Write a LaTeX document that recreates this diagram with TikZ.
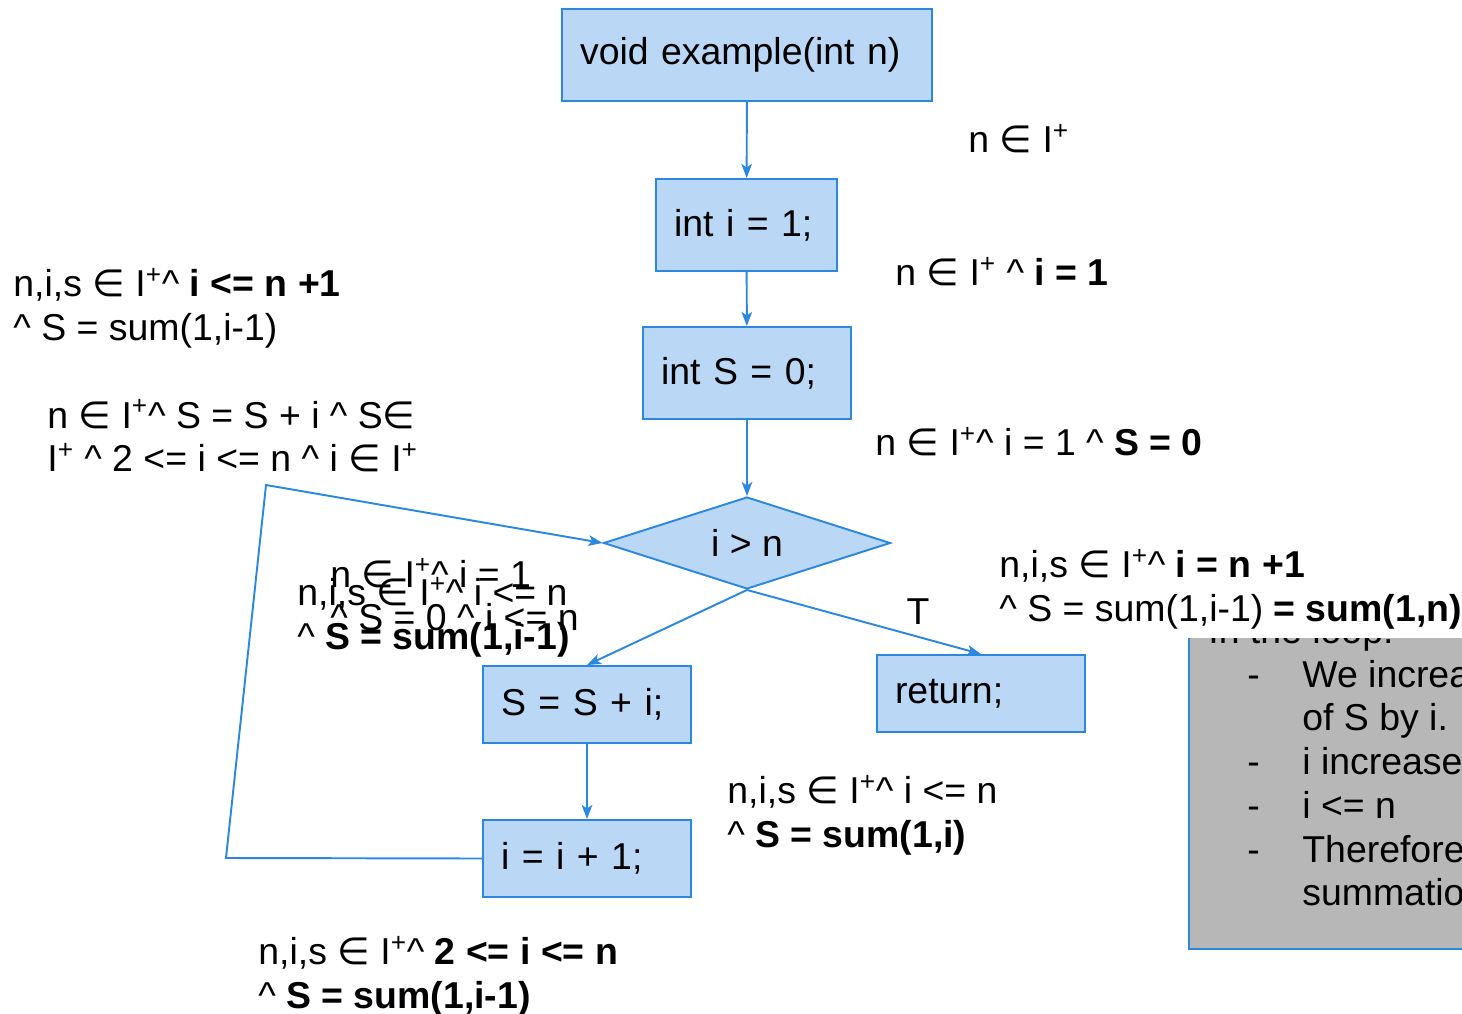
\documentclass[tikz,border=0pt]{standalone}
\usepackage{fontspec}
\setmainfont{Liberation Sans}
\newfontfamily\symfont{DejaVu Sans}
\usepackage{tikz}
\usetikzlibrary{arrows.meta,shapes.geometric}

\definecolor{flowblue}{HTML}{2B88DE}
\definecolor{boxblue}{HTML}{BAD7F6}
\definecolor{notegray}{HTML}{B7B7B7}

\newcommand{\Ip}{I\textsuperscript{+}}
\newcommand{\mem}{{\symfont ∈}}
\newcommand{\wg}{\textasciicircum}
\newcommand{\notebul}[1]{\makebox[1.88cm][l]{\hspace*{0.78cm}-}#1}
\newcommand{\notecont}[1]{\hspace*{1.88cm}#1}

\begin{document}
\begin{tikzpicture}[
  x=0.02cm, y=-0.02cm,
  every node/.style={font=\fontsize{21.3}{24.9}\selectfont},
  % flowchart boxes
  stmt/.style={rectangle,draw=flowblue,fill=boxblue,line width=1.1pt,inner xsep=0.36cm,inner ysep=0pt,align=left},
  decision/.style={diamond,draw=flowblue,fill=boxblue,line width=1.1pt,inner sep=0pt,aspect=3.12,minimum width=5.74cm,minimum height=1.84cm},
  note/.style={rectangle,draw=flowblue,fill=notegray,line width=1.1pt,inner sep=0pt},
  cond/.style={anchor=west,align=left,inner sep=0pt},
  line/.style={draw=flowblue,line width=1.1pt},
  flow/.style={line,-{Stealth[length=8pt,width=6pt,inset=2pt]}}
]
\path[use as bounding box,clip] (0,0) rectangle (1462,1013);

\node[stmt,text width=6.68cm,minimum height=1.84cm] (fn) at (747,55) {void example(int n)};  % top
\node[stmt,text width=2.9cm,minimum height=1.84cm] (initI) at (746.5,225) {int i = 1;};
\node[stmt,text width=3.44cm,minimum height=1.84cm] (initS) at (747,373) {int S = 0;};
\node[decision] (cmp) at (747,543) {i > n};
\node[stmt,text width=3.44cm,minimum height=1.54cm] (addS) at (587,704.5) {S = S + i;};  % loop body
\node[stmt,text width=3.44cm,minimum height=1.54cm] (incI) at (587,858.5) {i = i + 1;};
\node[stmt,text width=3.44cm,minimum height=1.54cm] (ret) at (981,693.5) {return;};  % exit

% edges
\draw[flow] (fn) -- (initI);
\draw[flow] (initI) -- (initS);
\draw[flow] (initS) -- (cmp);
\draw[flow] (cmp.south) -- (addS.north);
\draw[flow] (cmp.south) -- (ret.north);
\draw[flow] (addS) -- (incI);

% back edge of the loop
\coordinate (backA) at (226,858);
\coordinate (backB) at (266,485);
\draw[flow] (incI.west) -- (backA) -- (backB) -- (cmp.west);

\node (tlabel) at (918,612) {T};

% note box, cut by the page edge
\node[note,anchor=north west,minimum width=6cm,minimum height=6.96cm] (notebox) at (1188,600) {};
\node[cond,anchor=north west] (notetxt) at (1208,616) {In the loop:\\
  \notebul{We increase the value}\\
  \notecont{of S by i.}\\
  \notebul{i increases by 1}\\
  \notebul{i <= n}\\
  \notebul{Therefore S is the}\\
  \notecont{summation of 1 to i}};

% assertions
\node[cond] (pre0) at (968,139) {n \mem{} \Ip};
\node[cond] (pre1) at (895,272) {n \mem{} \Ip{} \wg{} \textbf{i = 1}};
\node[cond] (pre2) at (875,442) {n \mem{} \Ip\wg{} i = 1 \wg{} \textbf{S = 0}};
\node[cond] (inv) at (13,308) {n,i,s \mem{} \Ip\wg{} \textbf{i <= n +1}\\ \wg{} S = sum(1,i-1)};
\node[cond] (bodyc) at (47,436) {n \mem{} \Ip\wg{} S = S + i \wg{} S\mem\\ \Ip{} \wg{} 2 <= i <= n \wg{} i \mem{} \Ip};
\node[cond] (entryA) at (330,595) {n \mem{} \Ip\wg{} i = 1\\ \wg{} S = 0 \wg{} i <= n};
\node[cond] (entryB) at (297,617) {n,i,s \mem{} \Ip\wg{} i <= n\\ \wg{} \textbf{S = sum(1,i-1)}};
\node[cond,fill=white,inner ysep=5pt] (post) at (999,589) {n,i,s \mem{} \Ip\wg{} \textbf{i = n +1}\\ \wg{} S = sum(1,i-1) \textbf{= sum(1,n)}};
\node[cond] (afterS) at (727,815) {n,i,s \mem{} \Ip\wg{} i <= n\\ \wg{} \textbf{S = sum(1,i)}};
\node[cond] (afterI) at (258,976) {n,i,s \mem{} \Ip\wg{} \textbf{2 <= i <= n}\\ \wg{} \textbf{S = sum(1,i-1)}};

\end{tikzpicture}
\end{document}
